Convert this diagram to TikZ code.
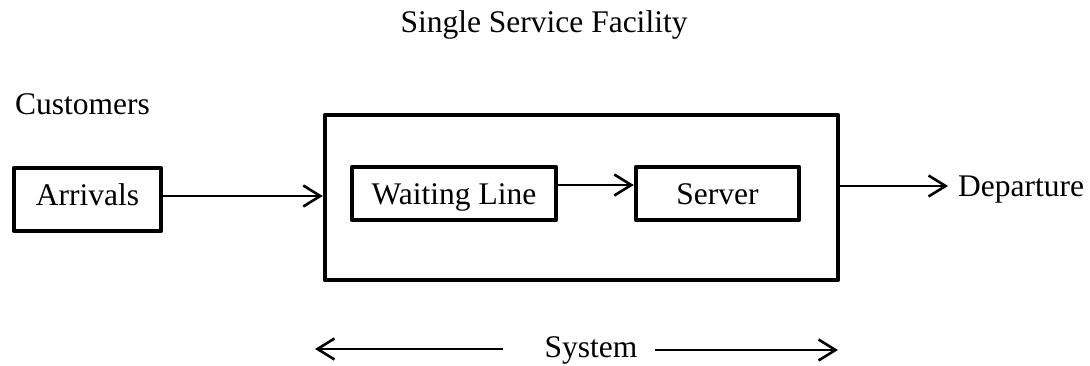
\documentclass[tikz,border=0pt]{standalone}
\usepackage{fontspec}
\setmainfont{Liberation Serif}
\usetikzlibrary{arrows.meta}
\begin{document}
\begin{tikzpicture}[x=1pt,y=-1pt,
  every node/.style={font=\fontsize{31.5}{37}\selectfont},
  boxnode/.style={draw, line width=4.5pt, line join=round, rectangle, inner sep=0pt},
  arr/.style={line width=2pt, -{Straight Barb[length=17pt,width=21pt,line width=2.6pt]}}]
\useasboundingbox (0,0) rectangle (1090,366);
\node[anchor=base] (title) at (544,33) {Single Service Facility};
\node[anchor=base west, inner sep=0pt] (customers) at (15,115) {Customers};
\node[boxnode, minimum width=147pt, minimum height=63pt, text height=21pt, text depth=8pt] (arrivals) at (87.5,199.5) {Arrivals};
\node[boxnode, minimum width=513pt, minimum height=165pt] (outer) at (581.5,197.5) {};
\node[boxnode, minimum width=204pt, minimum height=53pt, text height=23pt, text depth=0pt] (wl) at (454,193.5) {Waiting Line};
\node[boxnode, minimum width=163pt, minimum height=53pt, text height=23pt, text depth=0pt] (server) at (717.5,193.5) {Server};
\node[anchor=base west, inner sep=0pt] (departure) at (958,197) {Departure};
\node[anchor=base] (system) at (591,357) {System};
\coordinate (sysLs) at (503,349);
\coordinate (sysLe) at (315,349);
\coordinate (sysRs) at (655,350);
\coordinate (sysRe) at (838,350);
\draw[arr] ([yshift=3.5pt]arrivals.east) -- ([yshift=3.5pt]arrivals.east -| outer.west);
\draw[arr] ([yshift=8.5pt]wl.east) -- ([yshift=8.5pt]wl.east -| server.west);
\draw[arr] ([yshift=11.5pt]outer.east) -- ([yshift=11.5pt,xshift=-10pt]outer.east -| departure.west);
\draw[arr] (sysLs) -- (sysLe);
\draw[arr] (sysRs) -- (sysRe);
\end{tikzpicture}
\end{document}
